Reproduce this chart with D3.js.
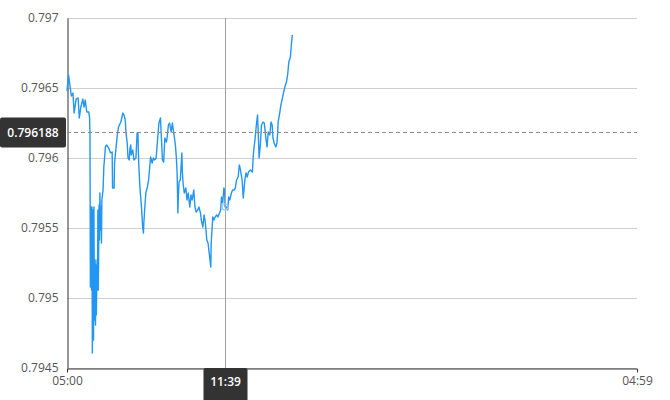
<!DOCTYPE html>
<html>
<head>
<meta charset="utf-8">
<script src="https://cdn.jsdelivr.net/npm/d3@7"></script>
<style>
  body { margin: 0; background: #fff; }
  text { font-family: "Open Sans", sans-serif; }
</style>
</head>
<body>
<div id="viz"></div>
<script>
// intraday quotes (time, rate)
const times = [
  "05:00","05:04","05:08","05:11","05:15","05:18","05:23","05:28","05:31","05:35",
  "05:40","05:43","05:46","05:50","05:55","05:57","05:58","05:59","06:01","06:02",
  "06:03","06:04","06:06","06:07","06:08","06:09","06:11","06:12","06:13","06:14",
  "06:16","06:17","06:18","06:19","06:21","06:22","06:23","06:25","06:26","06:27",
  "06:28","06:31","06:33","06:37","06:40","06:45","06:50","06:54","06:55","06:59",
  "07:00","07:04","07:07","07:10","07:16","07:21","07:24","07:27","07:29","07:32",
  "07:34","07:37","07:39","07:41","07:42","07:46","07:49","07:54","07:57","07:59",
  "08:01","08:04","08:08","08:11","08:13","08:14","08:16","08:19","08:23","08:26",
  "08:31","08:35","08:38","08:41","08:45","08:49","08:52","08:56","08:57","09:01",
  "09:04","09:07","09:11","09:13","09:16","09:19","09:23","09:26","09:29","09:33",
  "09:34","09:36","09:38","09:40","09:41","09:43","09:46","09:50","09:51","09:53",
  "09:56","10:00","10:03","10:06","10:10","10:13","10:16","10:20","10:23","10:26",
  "10:30","10:33","10:37","10:39","10:43","10:46","10:49","10:53","10:56","10:59",
  "11:03","11:04","11:08","11:11","11:14","11:18","11:21","11:25","11:28","11:30",
  "11:33","11:36","11:38","11:39","11:43","11:46","11:48","11:51","11:55","11:58","12:02",
  "12:05","12:08","12:12","12:15","12:18","12:22","12:25","12:29","12:32","12:35",
  "12:38","12:43","12:48","12:50","12:51","12:55","12:58","13:01","13:03","13:05",
  "13:08","13:11","13:15","13:18","13:22","13:25","13:28","13:32","13:35","13:38",
  "13:40","13:43","13:47","13:50","13:52","13:53","13:57","14:00","14:04","14:07",
  "14:10","14:14","14:17","14:20","14:24","14:27","14:29"
];
const rates = [
  0.796479,0.796593,0.796507,0.796443,0.796464,0.796321,0.796421,0.796429,0.796286,0.796364,
  0.796421,0.796364,0.796414,0.796329,0.796329,0.796286,0.796179,0.795079,0.795650,0.795057,
  0.795650,0.794607,0.795629,0.794700,0.795650,0.794843,0.795271,0.794807,0.795236,0.794879,
  0.795271,0.795057,0.795629,0.795057,0.795664,0.795414,0.795750,0.795486,0.795650,0.795393,
  0.795700,0.795771,0.795936,0.796079,0.796093,0.796071,0.796036,0.796043,0.795786,0.795786,
  0.795964,0.796079,0.796164,0.796221,0.796257,0.796321,0.796307,0.796271,0.796179,0.796107,
  0.796000,0.795986,0.796071,0.796093,0.796021,0.796057,0.795986,0.796000,0.796179,0.796179,
  0.795964,0.795793,0.795650,0.795507,0.795464,0.795536,0.795629,0.795750,0.795793,0.795843,
  0.796007,0.795964,0.796000,0.795986,0.796000,0.796143,0.796250,0.796286,0.796221,0.795986,
  0.795971,0.796143,0.796114,0.796150,0.796236,0.796250,0.796186,0.796250,0.796186,0.796107,
  0.796079,0.796007,0.795893,0.795607,0.795721,0.795829,0.795843,0.796036,0.795914,0.795821,
  0.795750,0.795786,0.795700,0.795750,0.795650,0.795736,0.795700,0.795771,0.795650,0.795614,
  0.795629,0.795650,0.795607,0.795557,0.795507,0.795593,0.795543,0.795414,0.795393,0.795321,
  0.795221,0.795393,0.795579,0.795557,0.795579,0.795593,0.795579,0.795607,0.795629,0.795721,
  0.795679,0.795786,0.795771,0.795650,0.795650,0.795629,0.795721,0.795700,0.795750,0.795771,0.795771,
  0.795786,0.795843,0.795864,0.795950,0.795914,0.795843,0.795714,0.795843,0.795893,0.795864,
  0.795900,0.795914,0.795900,0.796000,0.796043,0.796143,0.796236,0.796307,0.796164,0.796000,
  0.796093,0.796236,0.796257,0.796250,0.796143,0.796079,0.796186,0.796164,0.796257,0.796236,
  0.796143,0.796107,0.796079,0.796107,0.796186,0.796257,0.796321,0.796379,0.796429,0.796471,
  0.796507,0.796543,0.796593,0.796686,0.796721,0.796829,0.796879
];
const yTicks = [0.7945, 0.795, 0.7955, 0.796, 0.7965, 0.797];
const sessionStart = "2020-01-01 05:00";
const sessionEnd = "2020-01-02 04:59";
const cursorTime = "11:39";
const cursorRate = 0.796188;

const width = 670;
const height = 400;
const margin = { top: 18, right: 33, bottom: 32, left: 67 };

const parseFull = d3.timeParse("%Y-%m-%d %H:%M");
const day = "2020-01-01 ";
const data = times.map((t, i) => ({ date: parseFull(day + t), rate: rates[i] }));

const svg = d3.select("#viz").append("svg")
    .attr("width", width)
    .attr("height", height)

const x = d3.scaleTime()
    .domain([parseFull(sessionStart), parseFull(sessionEnd)])
    .range([margin.left, width - margin.right]);

const y = d3.scaleLinear()
    .domain([0.7945, 0.797])
    .range([height - margin.bottom, margin.top]);

// horizontal grid
svg.append("g")
    .selectAll("line")
    .data(yTicks)
    .enter()
    .append("line")
    .attr("x1", margin.left)
    .attr("x2", width - margin.right)
    .attr("y1", d => Math.round(y(d)) + 0.5)
    .attr("y2", d => Math.round(y(d)) + 0.5)
    .attr("stroke", "#cfcfcf")

// y axis
const yAxis = svg.append("g")
    .attr("transform", `translate(${margin.left + 0.5},0)`)
    .call(d3.axisLeft(y).tickValues(yTicks).tickSize(0).tickPadding(9).tickFormat(d => String(d)))
yAxis.select(".domain").attr("stroke", "#333")
yAxis.selectAll("text").attr("fill", "#555").style("font-size", "12px")

// x axis
const xAxis = svg.append("g")
    .attr("transform", `translate(0,${height - margin.bottom + 0.5})`)
    .call(d3.axisBottom(x)
        .tickValues([parseFull(sessionStart), parseFull(sessionEnd)])
        .tickSizeInner(0)
        .tickSizeOuter(4)
        .tickPadding(8)
        .tickFormat(d3.timeFormat("%H:%M")))
xAxis.select(".domain").attr("stroke", "#333")
xAxis.selectAll("text").attr("fill", "#555").style("font-size", "12px")

// quote line
const line = d3.line()
    .x(d => x(d.date))
    .y(d => y(d.rate))

svg.append("path")
    .datum(data)
    .attr("d", line)
    .attr("fill", "none")
    .attr("stroke", "#2196f3")
    .attr("stroke-width", 1.4)
    .attr("stroke-linejoin", "round")

// crosshair
const cursorDate = parseFull(day + cursorTime);
const cx = Math.round(x(cursorDate)) + 0.5;
const cy = Math.round(y(cursorRate)) + 0.5;

svg.append("line")
    .attr("x1", cx).attr("x2", cx)
    .attr("y1", margin.top).attr("y2", height - margin.bottom)
    .attr("stroke", "#a0a0a0")

svg.append("line")
    .attr("x1", margin.left).attr("x2", width - margin.right)
    .attr("y1", cy).attr("y2", cy)
    .attr("stroke", "#8a8a8a")
    .attr("stroke-dasharray", "4,3")

// marker where the cursor meets the line
const bisect = d3.bisector(d => d.date).left;
const ci = Math.min(bisect(data, cursorDate), data.length - 1);
svg.append("circle")
    .attr("cx", x(data[ci].date))
    .attr("cy", y(data[ci].rate))
    .attr("r", 3)
    .attr("fill", "none")
    .attr("stroke", "#90caf9")
    .attr("stroke-width", 1.2)

// cursor labels
const yLabel = svg.append("g").attr("transform", `translate(0,${cy})`)
yLabel.append("rect")
    .attr("x", 0).attr("y", -15)
    .attr("width", 66).attr("height", 30)
    .attr("rx", 2)
    .attr("fill", "#333")
yLabel.append("text")
    .attr("x", 33).attr("y", 0)
    .attr("dy", "0.35em")
    .attr("text-anchor", "middle")
    .attr("fill", "#fff")
    .style("font-size", "12px")
    .style("font-weight", "600")
    .text(cursorRate)

const xLabel = svg.append("g").attr("transform", `translate(${cx},${height - margin.bottom})`)
xLabel.append("rect")
    .attr("x", -22).attr("y", 0)
    .attr("width", 44).attr("height", 34)
    .attr("rx", 2)
    .attr("fill", "#333")
xLabel.append("text")
    .attr("x", 0).attr("y", 14)
    .attr("dy", "0.35em")
    .attr("text-anchor", "middle")
    .attr("fill", "#fff")
    .style("font-size", "12px")
    .style("font-weight", "600")
    .text(cursorTime)
</script>
</body>
</html>
